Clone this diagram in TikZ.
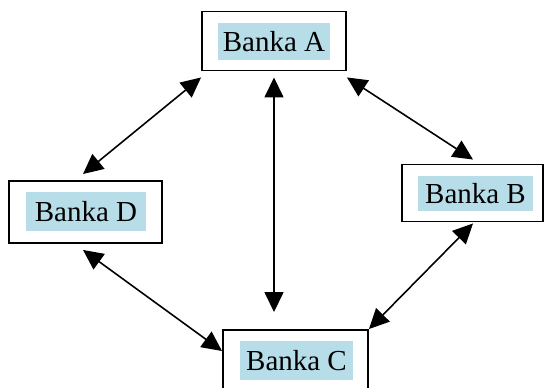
\documentclass[tikz,border=0pt]{standalone}
\usepackage{fontspec}
\setmainfont{Liberation Serif}
\usetikzlibrary{arrows.meta}
\definecolor{bankfill}{RGB}{183,221,232}
\begin{document}
\begin{tikzpicture}[x=0.02cm,y=-0.02cm,
    bank/.style={draw,line width=1.1pt,inner sep=0pt},
    banklabel/.style={fill=bankfill,inner sep=0pt,font=\fontsize{16.5}{19}\selectfont},
    link/.style={{Triangle[length=0.40cm,width=0.38cm]}-{Triangle[length=0.40cm,width=0.38cm]},line width=0.9pt}]
  \useasboundingbox (0,0) rectangle (545,388);
  % banks
  \node[bank,minimum width=2.88cm,minimum height=1.18cm] (bankA) at (274,41) {};
  \node[banklabel,minimum width=2.24cm,minimum height=0.74cm] (labelA) at (274,41.5) {Banka A};
  \node[bank,minimum width=2.82cm,minimum height=1.14cm] (bankB) at (472.5,193) {};
  \node[banklabel,minimum width=2.30cm,minimum height=0.70cm] (labelB) at (475.5,193.5) {Banka B};
  \node[bank,minimum width=2.90cm,minimum height=1.24cm] (bankC) at (295.5,361) {};
  \node[banklabel,minimum width=2.26cm,minimum height=0.78cm] (labelC) at (296.5,360.5) {Banka C};
  \node[bank,minimum width=3.06cm,minimum height=1.24cm] (bankD) at (85.5,212) {};
  \node[banklabel,minimum width=2.40cm,minimum height=0.78cm] (labelD) at (86,211.5) {Banka D};
  % links
  \draw[link] ([shift={(0,6)}]bankA.south west) -- ([shift={(-2.5,-6)}]bankD.north);
  \draw[link] ([shift={(0,6)}]bankA.south east) -- ([shift={(0.5,-4)}]bankB.north);
  \draw[link] ([shift={(0,6)}]bankA.south) -- ([shift={(-21.5,-17)}]bankC.north);
  \draw[link] ([shift={(-2.5,6)}]bankD.south) -- ([shift={(0,22)}]bankC.north west);
  \draw[link] ([shift={(0.5,1)}]bankB.south) -- (bankC.north east);
\end{tikzpicture}
\end{document}
